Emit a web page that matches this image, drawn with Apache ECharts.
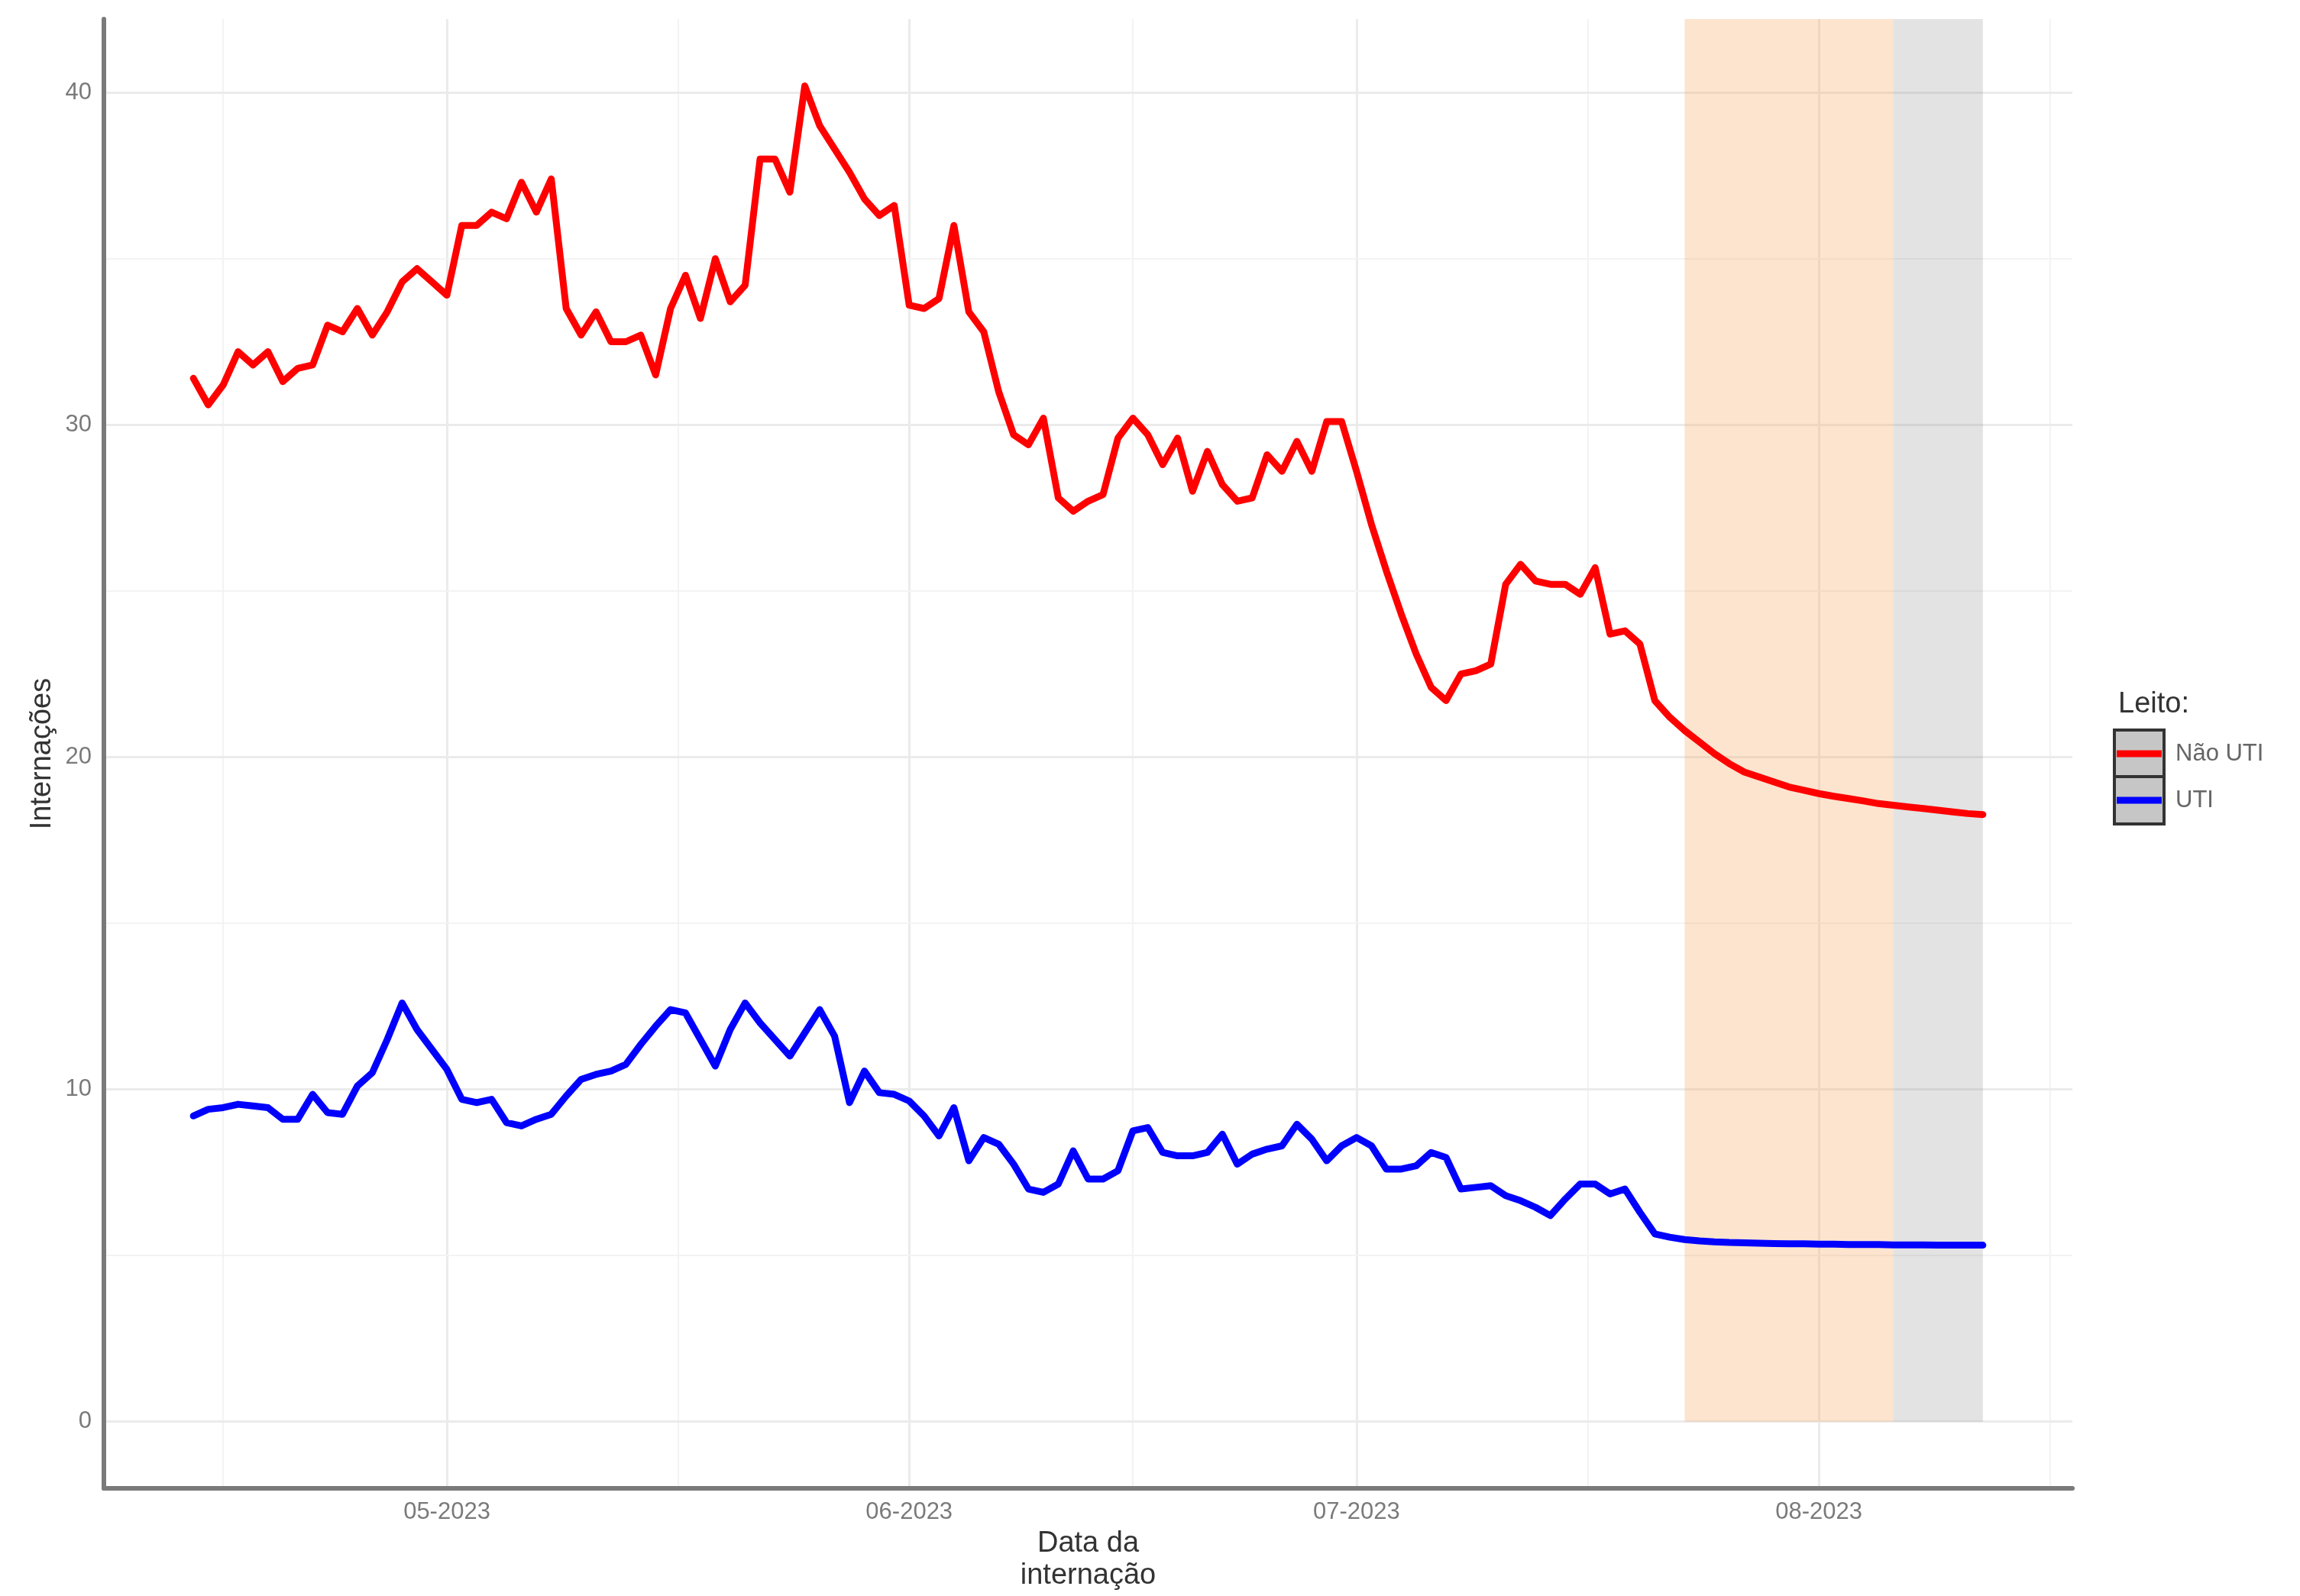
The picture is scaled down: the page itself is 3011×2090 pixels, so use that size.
<!DOCTYPE html>
<html>
<head>
<meta charset="utf-8">
<script src="https://cdn.jsdelivr.net/npm/echarts@6/dist/echarts.min.js"></script>
<style>html,body{margin:0;padding:0;background:#fff}#c{width:3011px;height:2090px}</style>
</head>
<body>
<div id="c"></div>
<script>
// ---- data ----
const startDate = [2023, 3, 14]; // 14 Apr 2023, one value per day
const naoUti = [
  31.4, 30.6, 31.2, 32.2, 31.8, 32.2, 31.3, 31.7, 31.8, 33.0, 32.8, 33.5, 32.7, 33.4, 34.3, 34.7, 34.3,
  33.9, 36.0, 36.0, 36.4, 36.2, 37.3, 36.4, 37.4, 33.5, 32.7,
  33.4, 32.5, 32.5, 32.7, 31.5, 33.5, 34.5, 33.2, 35.0, 33.7,
  34.2, 38.0, 38.0, 37.0, 40.2, 39.0, 38.3, 37.6, 36.8, 36.3,
  36.6, 33.6, 33.5, 33.8, 36.0, 33.4, 32.8, 31.0, 29.7, 29.4,
  30.2, 27.8, 27.4, 27.7, 27.9, 29.6, 30.2, 29.7, 28.8, 29.6,
  28.0, 29.2, 28.2, 27.7, 27.8, 29.1, 28.6, 29.5, 28.6, 30.1,
  30.1, 28.6, 27.0, 25.6, 24.3, 23.1, 22.1, 21.7, 22.5, 22.6,
  22.8, 25.2, 25.8, 25.3, 25.2, 25.2, 24.9, 25.7, 23.7, 23.8,
  23.4, 21.7, 21.2, 20.8, 20.45, 20.1, 19.8, 19.55, 19.4, 19.25,
  19.1, 19.0, 18.9, 18.82, 18.75, 18.68, 18.6, 18.55, 18.5, 18.45,
  18.4, 18.35, 18.3, 18.27
];
const uti = [
  9.2, 9.4, 9.45, 9.55, 9.5, 9.45, 9.1, 9.1, 9.85, 9.3, 9.25, 10.1, 10.5, 11.5, 12.6, 11.8, 11.2,
  10.6, 9.7, 9.6, 9.7, 9.0, 8.9, 9.1, 9.25, 9.8, 10.3,
  10.45, 10.55, 10.75, 11.35, 11.9, 12.4, 12.3, 11.5, 10.7, 11.8,
  12.6, 12.0, 11.5, 11.0, 11.7, 12.4, 11.6, 9.6, 10.55, 9.9,
  9.85, 9.65, 9.2, 8.6, 9.45, 7.85, 8.55, 8.35, 7.75, 7.0,
  6.9, 7.15, 8.15, 7.3, 7.3, 7.55, 8.75, 8.85, 8.1, 8.0,
  8.0, 8.1, 8.65, 7.75, 8.05, 8.2, 8.3, 8.95, 8.5, 7.85,
  8.3, 8.55, 8.3, 7.6, 7.6, 7.7, 8.1, 7.95, 7.0, 7.05,
  7.1, 6.8, 6.65, 6.45, 6.2, 6.7, 7.15, 7.15, 6.85, 7.0,
  6.3, 5.65, 5.55, 5.48, 5.44, 5.41, 5.39, 5.38, 5.37, 5.36,
  5.35, 5.35, 5.34, 5.34, 5.33, 5.33, 5.33, 5.32, 5.32, 5.32,
  5.31, 5.31, 5.31, 5.31
];
const seriesNames = ['Não UTI', 'UTI'];
const xTickDates = [[2023, 4, 1], [2023, 5, 1], [2023, 6, 1], [2023, 7, 1]];
const xTickLabels = ['05-2023', '06-2023', '07-2023', '08-2023'];
const xMinorDates = [[2023, 3, 16], [2023, 4, 16.5], [2023, 5, 16], [2023, 6, 16.5], [2023, 7, 16.5]];
const yTicks = [0, 10, 20, 30, 40];
const yMinor = [5, 15, 25, 35];
const shadeOrange = [[2023, 6, 23], [2023, 7, 6]];
const shadeGray = [[2023, 7, 6], [2023, 7, 12]];
const xRange = [[2023, 3, 8], [2023, 7, 18]];
const yRange = [-2.01, 42.21];

// ---- build ----
const DAY = 86400000;
const T = a => Date.UTC(a[0], a[1], Math.floor(a[2])) + (a[2] % 1) * DAY;
const t0 = T(startDate);
const dates = naoUti.map((_, i) => t0 + i * DAY);
const redData = dates.map((t, i) => [t, naoUti[i]]);
const blueData = dates.map((t, i) => [t, uti[i]]);
const tickTs = xTickDates.map(T);
const FONT = '"Liberation Sans", Arial, Helvetica, sans-serif';

const majorStyle = { color: '#EBEBEB', width: 3, type: 'solid' };
const minorStyle = { color: '#F3F3F3', width: 2, type: 'solid' };
const gridLines = []
  .concat(tickTs.map(t => ({ xAxis: t, lineStyle: majorStyle })))
  .concat(xMinorDates.map(d => ({ xAxis: T(d), lineStyle: minorStyle })))
  .concat(yTicks.map(v => ({ yAxis: v, lineStyle: majorStyle })))
  .concat(yMinor.map(v => ({ yAxis: v, lineStyle: minorStyle })));

const chart = echarts.init(document.getElementById('c'), null, { renderer: 'canvas' });
chart.setOption({
  animation: false,
  backgroundColor: '#ffffff',
  grid: { left: 136, right: 298, top: 25, bottom: 120, containLabel: false },
  xAxis: {
    type: 'value',
    min: T(xRange[0]),
    max: T(xRange[1]),
    z: 5,
    axisLine: { show: true, onZero: false, lineStyle: { color: '#7a7a7a', width: 6 } },
    axisTick: { show: false },
    splitLine: { show: false },
    axisLabel: {
      customValues: tickTs,
      formatter: v => { const i = tickTs.indexOf(v); return i >= 0 ? xTickLabels[i] : ''; },
      color: '#7a7a7a', fontSize: 31, fontFamily: FONT, margin: 16
    },
    name: 'Data da\ninternação',
    nameLocation: 'middle',
    nameGap: 50,
    nameTextStyle: { color: '#333', fontSize: 38, fontFamily: FONT, lineHeight: 42, verticalAlign: 'top', align: 'center' }
  },
  yAxis: {
    type: 'value',
    min: yRange[0],
    max: yRange[1],
    z: 5,
    axisLine: { show: true, onZero: false, lineStyle: { color: '#7a7a7a', width: 6 } },
    axisTick: { show: false },
    splitLine: { show: false },
    axisLabel: {
      customValues: yTicks,
      color: '#7a7a7a', fontSize: 31, fontFamily: FONT, margin: 16
    },
    name: 'Internações',
    nameLocation: 'middle',
    nameRotate: 90,
    nameGap: 58,
    nameTextStyle: { color: '#333', fontSize: 38, fontFamily: FONT }
  },
  series: [
    {
      name: seriesNames[1], type: 'line', data: blueData, showSymbol: false, z: 3,
      lineStyle: { color: '#0000FF', width: 9, join: 'round', cap: 'round' }, itemStyle: { color: '#0000FF' },
      markLine: { silent: true, z: 0, symbol: ['none', 'none'], label: { show: false }, data: gridLines, animation: false }
    },
    {
      name: seriesNames[0], type: 'line', data: redData, showSymbol: false, z: 3,
      lineStyle: { color: '#FF0000', width: 9, join: 'round', cap: 'round' }, itemStyle: { color: '#FF0000' },
      markArea: {
        silent: true, z: 1,
        data: [
          [{ xAxis: T(shadeOrange[0]), yAxis: 0, itemStyle: { color: 'rgba(244,164,96,0.3)' } }, { xAxis: T(shadeOrange[1]), yAxis: yRange[1] }],
          [{ xAxis: T(shadeGray[0]), yAxis: 0, itemStyle: { color: 'rgba(128,128,128,0.22)' } }, { xAxis: T(shadeGray[1]), yAxis: yRange[1] }]
        ]
      }
    }
  ],
  graphic: [
    { type: 'text', x: 2773, y: 923, style: { text: 'Leito:', fontSize: 38, fontFamily: FONT, fill: '#333', verticalAlign: 'middle' } },
    { type: 'rect', shape: { x: 2768, y: 956, width: 65, height: 61 }, style: { fill: '#C6C6C6', stroke: '#333', lineWidth: 4 } },
    { type: 'rect', shape: { x: 2768, y: 1017, width: 65, height: 62 }, style: { fill: '#C6C6C6', stroke: '#333', lineWidth: 4 } },
    { type: 'line', shape: { x1: 2771, y1: 987, x2: 2830, y2: 987 }, style: { stroke: '#FF0000', lineWidth: 9 } },
    { type: 'line', shape: { x1: 2771, y1: 1048, x2: 2830, y2: 1048 }, style: { stroke: '#0000FF', lineWidth: 9 } },
    { type: 'text', x: 2848, y: 987, style: { text: seriesNames[0], fontSize: 31, fontFamily: FONT, fill: '#666', verticalAlign: 'middle' } },
    { type: 'text', x: 2848, y: 1048, style: { text: seriesNames[1], fontSize: 31, fontFamily: FONT, fill: '#666', verticalAlign: 'middle' } }
  ]
});
</script>
</body>
</html>
